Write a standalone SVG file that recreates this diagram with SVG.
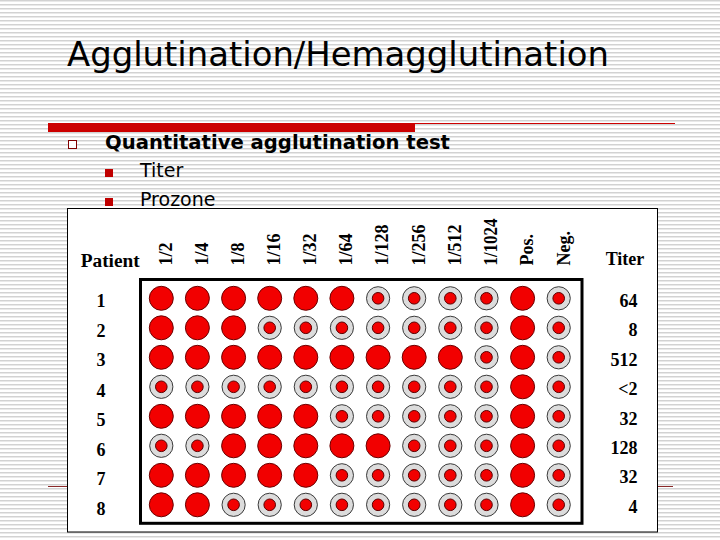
<svg xmlns="http://www.w3.org/2000/svg" xmlns:xlink="http://www.w3.org/1999/xlink" width="720" height="540" viewBox="0 0 720 540">
<defs>
<pattern id="stripes" width="8" height="4" patternUnits="userSpaceOnUse">
<rect width="8" height="4" fill="#ffffff"/>
<rect y="0" width="8" height="1" fill="#d2d2d2"/>
<rect y="1" width="8" height="1" fill="#e9e9e9"/>
</pattern>
<g id="F"><circle r="12" fill="#f20000" stroke="#6a0000" stroke-width="1"/></g>
<g id="R"><circle r="11.6" fill="#dcdcdc" stroke="#3a3a3a" stroke-width="1"/><circle r="5.8" fill="#f20000" stroke="#5a0000" stroke-width="1"/></g>
<style>
.hd{font-family:"Liberation Serif","Times New Roman",serif;font-weight:bold;font-size:18px;fill:#000}
.num{font-family:"Liberation Serif","Times New Roman",serif;font-weight:bold;font-size:18px;fill:#000}
.sans{font-family:"DejaVu Sans",Verdana,sans-serif;fill:#000}
</style>
</defs>
<rect width="720" height="540" fill="url(#stripes)"/>
<text class="sans" x="67" y="66" font-size="34" textLength="542" lengthAdjust="spacingAndGlyphs">Agglutination/Hemagglutination</text>
<rect x="48" y="123" width="367" height="9" fill="#cc0000"/>
<line x1="415" y1="123.5" x2="675" y2="123.5" stroke="#cc0000" stroke-width="1"/>
<rect x="68.5" y="140.5" width="8" height="8" fill="#ffffff" stroke="#800000" stroke-width="1"/>
<text class="sans" x="105" y="149" font-size="19" font-weight="bold" textLength="345" lengthAdjust="spacingAndGlyphs">Quantitative agglutination test</text>
<rect x="105" y="169" width="8" height="8" fill="#c00000"/>
<text class="sans" x="140" y="177" font-size="19">Titer</text>
<rect x="105" y="198" width="8" height="8" fill="#c00000"/>
<text class="sans" x="140" y="205.7" font-size="19">Prozone</text>
<line x1="48" y1="486.5" x2="673" y2="486.5" stroke="#8b2a2a" stroke-width="1"/>
<rect x="67.5" y="208.5" width="590" height="323.5" fill="#ffffff" stroke="#000" stroke-width="1"/>
<g id="headers">
<text class="hd" x="80.7" y="266.5" textLength="59" lengthAdjust="spacingAndGlyphs">Patient</text>
<text class="hd" transform="translate(171.6,265.5) rotate(-90)">1/2</text>
<text class="hd" transform="translate(207.7,265.5) rotate(-90)">1/4</text>
<text class="hd" transform="translate(243.9,265.5) rotate(-90)">1/8</text>
<text class="hd" transform="translate(280,265.5) rotate(-90)">1/16</text>
<text class="hd" transform="translate(316.1,265.5) rotate(-90)">1/32</text>
<text class="hd" transform="translate(352.2,265.5) rotate(-90)">1/64</text>
<text class="hd" transform="translate(388.4,265.5) rotate(-90)">1/128</text>
<text class="hd" transform="translate(424.5,265.5) rotate(-90)">1/256</text>
<text class="hd" transform="translate(460.6,265.5) rotate(-90)">1/512</text>
<text class="hd" transform="translate(496.8,265.5) rotate(-90)" textLength="47" lengthAdjust="spacingAndGlyphs">1/1024</text>
<text class="hd" transform="translate(533,265.5) rotate(-90)">Pos.</text>
<text class="hd" transform="translate(569.5,265.5) rotate(-90)">Neg.</text>
<text class="hd" x="625" y="265" text-anchor="middle">Titer</text>
</g>
<rect x="140.5" y="279.5" width="441.5" height="243.8" fill="none" stroke="#000" stroke-width="3"/>
<g id="row-labels" text-anchor="middle">
<text class="num" x="101" y="307">1</text>
<text class="num" x="101" y="336.7">2</text>
<text class="num" x="101" y="366">3</text>
<text class="num" x="101" y="396.5">4</text>
<text class="num" x="101" y="426">5</text>
<text class="num" x="101" y="456">6</text>
<text class="num" x="101" y="485">7</text>
<text class="num" x="101" y="514.5">8</text>
</g>
<g id="titers" text-anchor="end">
<text class="num" x="637.5" y="306.7">64</text>
<text class="num" x="637.5" y="336">8</text>
<text class="num" x="637.5" y="365.5">512</text>
<text class="num" x="637.5" y="395">&lt;2</text>
<text class="num" x="637.5" y="424.5">32</text>
<text class="num" x="637.5" y="453.5">128</text>
<text class="num" x="637.5" y="483">32</text>
<text class="num" x="637.5" y="512.5">4</text>
</g>
<g id="row1">
<use xlink:href="#F" x="161.3" y="298.3"/><use xlink:href="#F" x="197.4" y="298.3"/><use xlink:href="#F" x="233.6" y="298.3"/><use xlink:href="#F" x="269.7" y="298.3"/><use xlink:href="#F" x="305.8" y="298.3"/><use xlink:href="#F" x="341.9" y="298.3"/><use xlink:href="#R" x="378.1" y="298.3"/><use xlink:href="#R" x="414.2" y="298.3"/><use xlink:href="#R" x="450.3" y="298.3"/><use xlink:href="#R" x="486.5" y="298.3"/><use xlink:href="#F" x="522.6" y="298.3"/><use xlink:href="#R" x="558.7" y="298.3"/>
</g>
<g id="row2">
<use xlink:href="#F" x="161.3" y="327.8"/><use xlink:href="#F" x="197.4" y="327.8"/><use xlink:href="#F" x="233.6" y="327.8"/><use xlink:href="#R" x="269.7" y="327.8"/><use xlink:href="#R" x="305.8" y="327.8"/><use xlink:href="#R" x="341.9" y="327.8"/><use xlink:href="#R" x="378.1" y="327.8"/><use xlink:href="#R" x="414.2" y="327.8"/><use xlink:href="#R" x="450.3" y="327.8"/><use xlink:href="#R" x="486.5" y="327.8"/><use xlink:href="#F" x="522.6" y="327.8"/><use xlink:href="#R" x="558.7" y="327.8"/>
</g>
<g id="row3">
<use xlink:href="#F" x="161.3" y="357.3"/><use xlink:href="#F" x="197.4" y="357.3"/><use xlink:href="#F" x="233.6" y="357.3"/><use xlink:href="#F" x="269.7" y="357.3"/><use xlink:href="#F" x="305.8" y="357.3"/><use xlink:href="#F" x="341.9" y="357.3"/><use xlink:href="#F" x="378.1" y="357.3"/><use xlink:href="#F" x="414.2" y="357.3"/><use xlink:href="#F" x="450.3" y="357.3"/><use xlink:href="#R" x="486.5" y="357.3"/><use xlink:href="#F" x="522.6" y="357.3"/><use xlink:href="#R" x="558.7" y="357.3"/>
</g>
<g id="row4">
<use xlink:href="#R" x="161.3" y="386.8"/><use xlink:href="#R" x="197.4" y="386.8"/><use xlink:href="#R" x="233.6" y="386.8"/><use xlink:href="#R" x="269.7" y="386.8"/><use xlink:href="#R" x="305.8" y="386.8"/><use xlink:href="#R" x="341.9" y="386.8"/><use xlink:href="#R" x="378.1" y="386.8"/><use xlink:href="#R" x="414.2" y="386.8"/><use xlink:href="#R" x="450.3" y="386.8"/><use xlink:href="#R" x="486.5" y="386.8"/><use xlink:href="#F" x="522.6" y="386.8"/><use xlink:href="#R" x="558.7" y="386.8"/>
</g>
<g id="row5">
<use xlink:href="#F" x="161.3" y="416.3"/><use xlink:href="#F" x="197.4" y="416.3"/><use xlink:href="#F" x="233.6" y="416.3"/><use xlink:href="#F" x="269.7" y="416.3"/><use xlink:href="#F" x="305.8" y="416.3"/><use xlink:href="#R" x="341.9" y="416.3"/><use xlink:href="#R" x="378.1" y="416.3"/><use xlink:href="#R" x="414.2" y="416.3"/><use xlink:href="#R" x="450.3" y="416.3"/><use xlink:href="#R" x="486.5" y="416.3"/><use xlink:href="#F" x="522.6" y="416.3"/><use xlink:href="#R" x="558.7" y="416.3"/>
</g>
<g id="row6">
<use xlink:href="#R" x="161.3" y="445.8"/><use xlink:href="#R" x="197.4" y="445.8"/><use xlink:href="#F" x="233.6" y="445.8"/><use xlink:href="#F" x="269.7" y="445.8"/><use xlink:href="#F" x="305.8" y="445.8"/><use xlink:href="#F" x="341.9" y="445.8"/><use xlink:href="#F" x="378.1" y="445.8"/><use xlink:href="#R" x="414.2" y="445.8"/><use xlink:href="#R" x="450.3" y="445.8"/><use xlink:href="#R" x="486.5" y="445.8"/><use xlink:href="#F" x="522.6" y="445.8"/><use xlink:href="#R" x="558.7" y="445.8"/>
</g>
<g id="row7">
<use xlink:href="#F" x="161.3" y="475.3"/><use xlink:href="#F" x="197.4" y="475.3"/><use xlink:href="#F" x="233.6" y="475.3"/><use xlink:href="#F" x="269.7" y="475.3"/><use xlink:href="#F" x="305.8" y="475.3"/><use xlink:href="#R" x="341.9" y="475.3"/><use xlink:href="#R" x="378.1" y="475.3"/><use xlink:href="#R" x="414.2" y="475.3"/><use xlink:href="#R" x="450.3" y="475.3"/><use xlink:href="#R" x="486.5" y="475.3"/><use xlink:href="#F" x="522.6" y="475.3"/><use xlink:href="#R" x="558.7" y="475.3"/>
</g>
<g id="row8">
<use xlink:href="#F" x="161.3" y="504.8"/><use xlink:href="#F" x="197.4" y="504.8"/><use xlink:href="#R" x="233.6" y="504.8"/><use xlink:href="#R" x="269.7" y="504.8"/><use xlink:href="#R" x="305.8" y="504.8"/><use xlink:href="#R" x="341.9" y="504.8"/><use xlink:href="#R" x="378.1" y="504.8"/><use xlink:href="#R" x="414.2" y="504.8"/><use xlink:href="#R" x="450.3" y="504.8"/><use xlink:href="#R" x="486.5" y="504.8"/><use xlink:href="#F" x="522.6" y="504.8"/><use xlink:href="#R" x="558.7" y="504.8"/>
</g>
</svg>
